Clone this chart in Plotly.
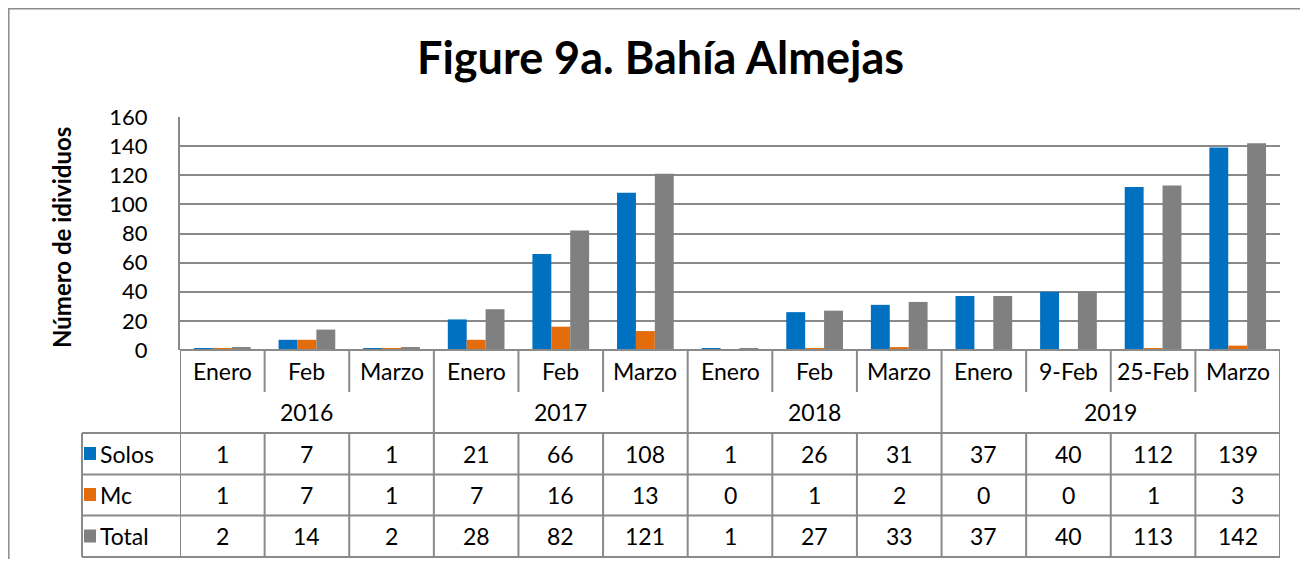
import plotly.graph_objects as go

months = ["Enero", "Feb", "Marzo", "Enero", "Feb", "Marzo", "Enero", "Feb", "Marzo",
          "Enero", "9-Feb", "25-Feb", "Marzo"]
years = ["2016", "2017", "2018", "2019"]
year_sizes = [3, 3, 3, 4]
solos = [1, 7, 1, 21, 66, 108, 1, 26, 31, 37, 40, 112, 139]
mc = [1, 7, 1, 7, 16, 13, 0, 1, 2, 0, 0, 1, 3]
total = [2, 14, 2, 28, 82, 121, 1, 27, 33, 37, 40, 113, 142]
series_names = ["Solos", "Mc", "Total"]
series_colors = ["#0070C0", "#E46C0A", "#808080"]
series_values = [solos, mc, total]

OFF = 8  # page body margin
W, H = 1308 - 2 * OFF, 567 - 2 * OFF
FONT = "Lato"
GRID = "#8A8A8A"


def py(y):
    return (H - (y - OFF)) / H


def px(x):
    return (x - OFF) / W


idx = list(range(len(months)))
fig = go.Figure()
for name, col, vals in zip(series_names, series_colors, series_values):
    fig.add_trace(go.Bar(x=idx, y=vals, name=name, marker=dict(color=col, line=dict(width=0)),
                         showlegend=False, hoverinfo="y"))

shapes = []
ann = []
n = len(months)
x_left = px(180)
x_right = px(1280)

# outer border (top and left edges visible)
shapes.append(dict(type="rect", xref="paper", yref="paper", x0=px(8.8), x1=px(1330), y0=py(600), y1=py(8.8),
                   line=dict(color="#8C8C8C", width=1.5)))

# table horizontal lines
shapes.append(dict(type="line", xref="paper", yref="paper", x0=x_left, x1=x_right, y0=py(350), y1=py(350),
                   line=dict(color=GRID, width=2)))
for yy in [433, 474.5, 515.5, 557]:
    shapes.append(dict(type="line", xref="paper", yref="paper", x0=px(82), x1=x_right, y0=py(yy), y1=py(yy),
                       line=dict(color=GRID, width=2)))
shapes.append(dict(type="line", xref="paper", yref="paper", x0=px(82), x1=px(82), y0=py(433), y1=py(557),
                   line=dict(color=GRID, width=2)))

# vertical lines
year_bounds = set()
acc = 0
for s in year_sizes:
    year_bounds.add(acc)
    acc += s
year_bounds.add(acc)
for k in range(n + 1):
    xv = k - 0.5
    if k in year_bounds:
        shapes.append(dict(type="line", xref="x", yref="paper", x0=xv, x1=xv, y0=py(350), y1=py(557),
                           line=dict(color=GRID, width=2)))
    else:
        shapes.append(dict(type="line", xref="x", yref="paper", x0=xv, x1=xv, y0=py(350), y1=py(392),
                           line=dict(color=GRID, width=2)))
        shapes.append(dict(type="line", xref="x", yref="paper", x0=xv, x1=xv, y0=py(433), y1=py(557),
                           line=dict(color=GRID, width=2)))

TF = dict(family=FONT, size=23, color="#000000")
# month labels
for i, m in enumerate(months):
    ann.append(dict(x=i, y=py(371), xref="x", yref="paper", text=m, showarrow=False, font=TF,
                    xanchor="center", yanchor="middle"))
# year labels
acc = 0
for yname, s in zip(years, year_sizes):
    ann.append(dict(x=acc + (s - 1) / 2, y=py(412), xref="x", yref="paper", text=yname, showarrow=False,
                    font=TF, xanchor="center", yanchor="middle"))
    acc += s
# data rows
row_centers = [453.5, 494.5, 536]
for rc, name, col, vals in zip(row_centers, series_names, series_colors, series_values):
    for i, v in enumerate(vals):
        ann.append(dict(x=i, y=py(rc), xref="x", yref="paper", text=str(v), showarrow=False, font=TF,
                        xanchor="center", yanchor="middle"))
    shapes.append(dict(type="rect", xref="paper", yref="paper", x0=px(84), x1=px(96), y0=py(rc + 6.5),
                       y1=py(rc - 6.5), fillcolor=col, line=dict(width=0)))
    ann.append(dict(x=px(98), y=py(rc), xref="paper", yref="paper", text=name, showarrow=False,
                    xanchor="left", yanchor="middle", font=TF))

# title
ann.append(dict(x=px(660), y=py(57), xref="paper", yref="paper", text="<b>Figure 9a. Bahía Almejas</b>",
                showarrow=False, xanchor="center", yanchor="middle",
                font=dict(family=FONT, size=45, color="#000000")))
# y axis title
ann.append(dict(x=px(62), y=py(237), xref="paper", yref="paper", text="<b>Número de idividuos</b>",
                showarrow=False, textangle=-90, xanchor="center", yanchor="middle",
                font=dict(family=FONT, size=24, color="#000000")))

fig.update_layout(
    width=W, height=H,
    margin=dict(l=0, r=0, t=0, b=0, autoexpand=False),
    paper_bgcolor="white", plot_bgcolor="white",
    barmode="group", bargap=0.33, bargroupgap=0,
    shapes=shapes, annotations=ann,
    xaxis=dict(domain=[x_left, x_right], range=[-0.5, n - 0.5], showticklabels=False, showgrid=False,
               zeroline=False, showline=False, ticks=""),
    yaxis=dict(domain=[py(350), py(117)], range=[0, 160], dtick=20, showgrid=True, gridcolor=GRID,
               gridwidth=2, zeroline=False, showline=True, linecolor=GRID, linewidth=2, ticks="",
               ticklabelstandoff=26, tickfont=dict(family=FONT, size=22, color="#000000")),
)

fig.write_html("out.html")
